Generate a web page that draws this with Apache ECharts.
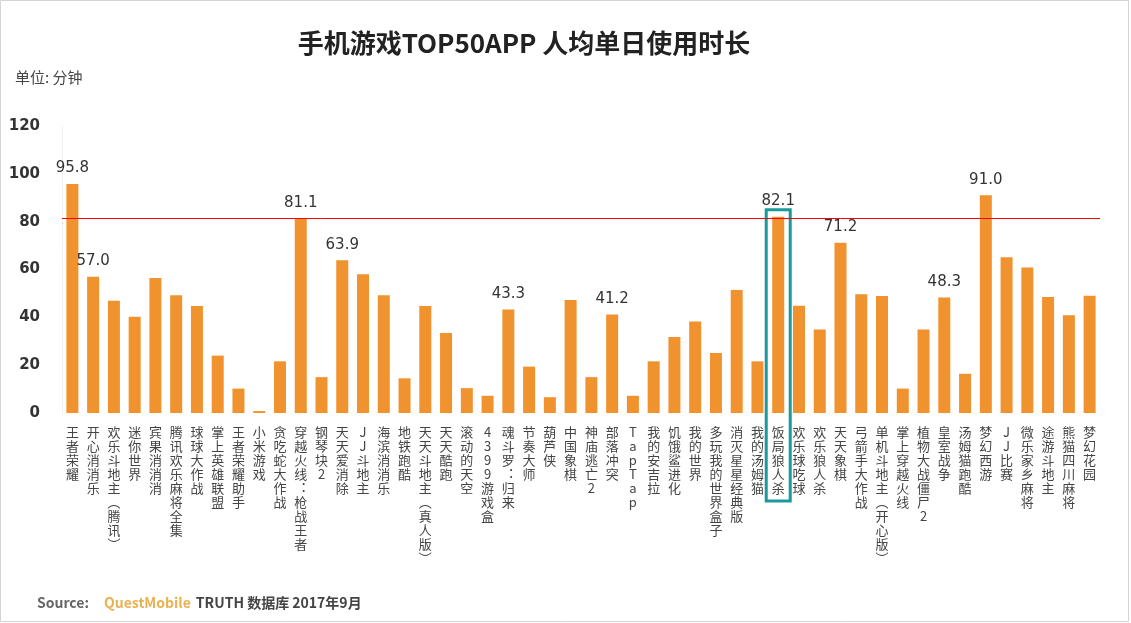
<!DOCTYPE html>
<html>
<head>
<meta charset="utf-8" />
<title>手机游戏TOP50APP 人均单日使用时长</title>
<style type="text/css">
  body, html, #main {width: 100%; height: 100%; overflow: hidden; margin: 0; background: #fff;}
</style>
<script src="https://cdn.jsdelivr.net/npm/echarts@6/dist/echarts.min.js"></script>
</head>
<body>
<div id="main"></div>
<script type="text/javascript">
// 数据
var categories = ['王者荣耀', '开心消消乐', '欢乐斗地主（腾讯）', '迷你世界', '宾果消消消', '腾讯欢乐麻将全集', '球球大作战',
    '掌上英雄联盟', '王者荣耀助手', '小米游戏', '贪吃蛇大作战', '穿越火线：枪战王者', '钢琴块2', '天天爱消除', 'JJ斗地主',
    '海滨消消乐', '地铁跑酷', '天天斗地主（真人版）', '天天酷跑', '滚动的天空', '4399游戏盒', '魂斗罗：归来', '节奏大师',
    '葫芦侠', '中国象棋', '神庙逃亡2', '部落冲突', 'TapTap', '我的安吉拉', '饥饿鲨进化', '我的世界', '多玩我的世界盒子',
    '消灭星星经典版', '我的汤姆猫', '饭局狼人杀', '欢乐球吃球', '欢乐狼人杀', '天天象棋', '弓箭手大作战', '单机斗地主（开心版）',
    '掌上穿越火线', '植物大战僵尸2', '皇室战争', '汤姆猫跑酷', '梦幻西游', 'JJ比赛', '微乐家乡麻将', '途游斗地主',
    '熊猫四川麻将', '梦幻花园'];
var minutes = [95.8, 57.0, 46.9, 40.2, 56.4, 49.2, 44.7, 24.0, 10.2, 0.8,
    21.6, 81.1, 15.0, 63.9, 58.0, 49.2, 14.5, 44.7, 33.5, 10.4,
    7.2, 43.3, 19.4, 6.6, 47.2, 15.0, 41.2, 7.2, 21.6, 31.8,
    38.3, 25.1, 51.4, 21.6, 82.1, 44.8, 34.9, 71.2, 49.7, 48.9,
    10.2, 34.9, 48.3, 16.4, 91.0, 65.1, 60.8, 48.5, 40.9, 49.0];
// 只标注这几个柱子的数值
var labeledIdx = [0, 1, 11, 13, 21, 26, 34, 37, 42, 44];
var refLine = 81.5;          // 红线
var highlightIdx = 34;       // 框出来的：饭局狼人杀
var yTicks = [0, 20, 40, 60, 80, 100, 120];

// 竖排文字：括号、冒号换成竖排形式
function vertical(s) {
    return s.replace(/（/g, '︵').replace(/）/g, '︶').replace(/：/g, '︓').split('').join('\n');
}

var chart = echarts.init(document.getElementById('main'));
var option = {
    animation: false,
    title: [
        {
            text: '手机游戏TOP50APP 人均单日使用时长',
            left: 519, top: 25, textAlign: 'center',
            textStyle: {fontSize: 26, fontWeight: 'bold', color: '#222', fontFamily: 'Noto Sans CJK SC'}
        },
        {
            text: '单位: 分钟',
            left: 10, top: 65,
            textStyle: {fontSize: 15, fontWeight: 'normal', color: '#444', fontFamily: 'Noto Sans CJK SC'}
        },
        {
            text: '{s|Source:}   {q|QuestMobile} {t|TRUTH 数据库 2017年9月}',
            left: 32, top: 589,
            textStyle: {
                rich: {
                    s: {fontSize: 14, color: '#666', fontFamily: 'Noto Sans CJK SC'},
                    q: {fontSize: 14, color: '#E9B250', fontWeight: 'bold', fontFamily: 'Noto Sans CJK SC'},
                    t: {fontSize: 14, color: '#444', fontFamily: 'Noto Sans CJK SC'}
                }
            }
        }
    ],
    grid: {left: 62, right: 31, top: 126, bottom: 210, containLabel: false},
    xAxis: {
        type: 'category',
        data: categories,
        axisLine: {show: false},
        axisTick: {show: false},
        axisLabel: {
            interval: 0,
            margin: 12,
            verticalAlign: 'top',
            lineHeight: 14,
            fontSize: 13,
            color: '#444',
            fontFamily: 'Noto Sans CJK SC',
            formatter: function (v) { return vertical(v); }
        }
    },
    yAxis: {
        type: 'value',
        min: yTicks[0],
        max: yTicks[yTicks.length - 1],
        interval: 20,
        axisLine: {show: true, lineStyle: {color: '#f0f0f0'}},
        axisTick: {show: false},
        splitLine: {show: false},
        axisLabel: {
            margin: 22,
            fontSize: 15,
            fontWeight: 'bold',
            color: '#333',
            fontFamily: 'DejaVu Sans'
        }
    },
    series: [{
        type: 'bar',
        barWidth: 12,
        data: minutes.map(function (v, i) {
            return {
                value: v,
                label: {show: labeledIdx.indexOf(i) >= 0}
            };
        }),
        itemStyle: {color: '#F0922E'},
        label: {
            position: 'top',
            distance: 8,
            fontSize: 15,
            color: '#333',
            fontFamily: 'DejaVu Sans',
            formatter: function (p) { return p.value.toFixed(1); }
        },
        markLine: {
            silent: true,
            symbol: 'none',
            label: {show: false},
            lineStyle: {color: '#ff0000', width: 1, type: 'solid'},
            data: [{yAxis: refLine}]
        }
    }]
};
chart.setOption(option);

// 画框和外边框：位置从坐标轴换算
var barTop = chart.convertToPixel({seriesIndex: 0}, [highlightIdx, minutes[highlightIdx]]);
var barBase = chart.convertToPixel({seriesIndex: 0}, [highlightIdx, 0]);
chart.setOption({
    graphic: [
        {
            type: 'rect',
            shape: {x: barTop[0] - 12, y: barTop[1] - 7, width: 24, height: barBase[1] - barTop[1] + 95},
            style: {fill: 'none', stroke: '#1A9A9A', lineWidth: 3}
        },
        {
            type: 'rect',
            shape: {x: 0.5, y: 0.5, width: 1128, height: 621},
            style: {fill: 'none', stroke: '#d4d4d4', lineWidth: 1}
        }
    ]
});
</script>
</body>
</html>
